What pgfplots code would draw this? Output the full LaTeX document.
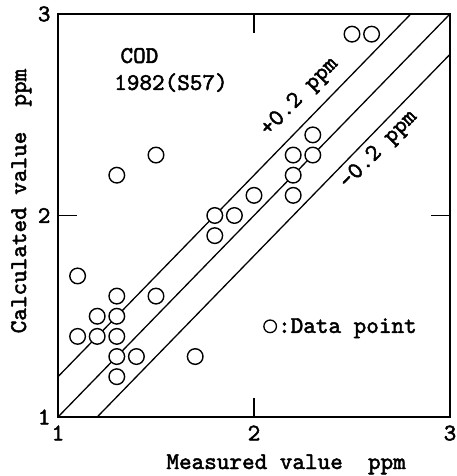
\documentclass[border=0pt]{standalone}
\usepackage{fontspec}
\usepackage{pgfplots}
\pgfplotsset{compat=1.18}
\newfontfamily\twf{lmmono10-regular.otf}[FakeBold=2]
\newcommand{\tw}{\twf\fontsize{24}{26}\selectfont}
\begin{document}
\begin{tikzpicture}
\useasboundingbox (-58pt,-59pt) rectangle (398pt,417pt);
\begin{axis}[
  at={(0pt,0pt)}, anchor=south west,
  scale only axis, width=392pt, height=403pt,
  xmin=1, xmax=3, ymin=1, ymax=3,
  xtick={1,2,3}, ytick={1,2,3},
  xticklabels={{\tw 1},{\tw 2},{\tw 3}},
  yticklabels={{\tw 1},{\tw 2},{\tw 3}},
  tick align=inside, major tick length=19pt,
  axis line style={line width=1.6pt},
  tick style={line width=1.3pt, black},
  xticklabel style={yshift=-5pt},
  yticklabel style={xshift=-4pt},
  xlabel={Measured value~~ppm},
  ylabel={Calculated value~~ppm},
  label style={font=\tw},
  xlabel style={at={(axis description cs:0.582,0)}, anchor=base, yshift=-52pt},
  ylabel style={at={(axis description cs:-0.0816,0.536)}, anchor=base},
  legend style={at={(axis cs:2.046,1.45)}, anchor=west, draw=none, fill=none,
    inner sep=0pt, font=\tw, nodes={inner sep=1pt}},
  legend image code/.code={\draw[black, line width=1.3pt, fill=white] (0pt,0pt) circle (6.3pt);},
]
\addplot[black, line width=1.3pt, forget plot] coordinates {(1,1) (3,3)};
\addplot[black, line width=1.3pt, forget plot] coordinates {(1,1.2) (2.8,3)};
\addplot[black, line width=1.3pt, forget plot] coordinates {(1.2,1) (3,2.8)};
\addplot[only marks, mark=*, mark size=7.8pt,
  mark options={fill=white, draw=black, line width=1.4pt}] coordinates {
  (1.1,1.7) (1.1,1.4) (1.2,1.5) (1.2,1.4) (1.3,2.2) (1.3,1.6) (1.3,1.5)
  (1.3,1.4) (1.3,1.3) (1.3,1.2) (1.4,1.3) (1.5,2.3) (1.5,1.6) (1.7,1.3)
  (1.8,2.0) (1.8,1.9) (1.9,2.0) (2.0,2.1) (2.2,2.3) (2.2,2.2) (2.2,2.1)
  (2.3,2.4) (2.3,2.3) (2.5,2.9) (2.6,2.9)};
\addlegendentry{:Data point}
\node[font=\tw, anchor=base west, inner sep=0pt] at (axis cs:1.318,2.757) {COD};
\node[font=\tw, anchor=base west, inner sep=0pt] at (axis cs:1.286,2.623) {1982(S57)};
\node[font=\tw, rotate=45.8, inner sep=0pt] at (axis cs:2.235,2.588) {+0.2 ppm};
\node[font=\tw, rotate=45.8, inner sep=0pt] at (axis cs:2.638,2.325) {-0.2 ppm};
\end{axis}
\end{tikzpicture}
\end{document}
